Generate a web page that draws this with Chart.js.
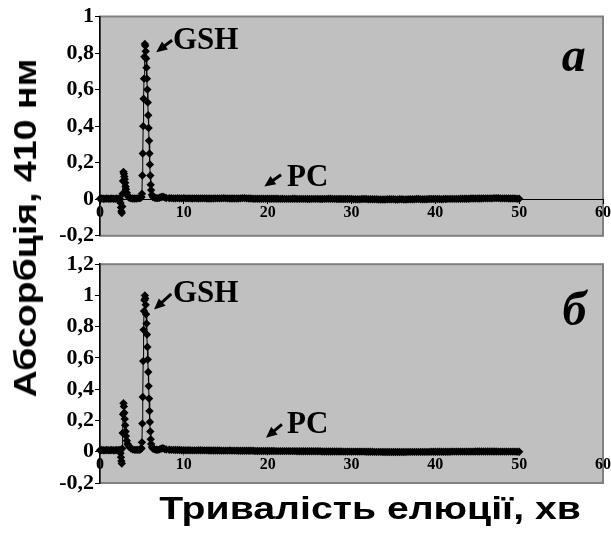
<!DOCTYPE html>
<html>
<head>
<meta charset="utf-8">
<script src="https://cdn.jsdelivr.net/npm/chart.js@4.4.1/dist/chart.umd.min.js"></script>
<style>
  body { margin: 0; background: #fff; }
  #wrap { position: relative; width: 611px; height: 536px; overflow: hidden; }
  #wrap canvas { position: absolute; left: 0; }
  #ytitle {
    position: absolute; left: 26px; top: 228px;
    transform: translate(-50%, -50%) rotate(-90deg) scaleX(1.21);
    font: bold 31px "Liberation Sans", Arial, sans-serif; white-space: nowrap;
  }
  #xtitle {
    position: absolute; left: 370px; top: 509px;
    transform: translate(-50%, -50%) scaleX(1.265);
    font: bold 31px "Liberation Sans", Arial, sans-serif; white-space: nowrap;
  }
</style>
</head>
<body>
<div id="wrap">
  <canvas id="chartA" width="611" height="250" style="top:0"></canvas>
  <canvas id="chartB" width="611" height="250" style="top:250px"></canvas>
  <div id="ytitle">Абсорбція, 410 нм</div>
  <div id="xtitle">Тривалість елюції, хв</div>
</div>
<script>
// час елюції, хв (спільна сітка для обох хроматограм)
const elutionTime = [
  0, 0.2, 0.4, 0.6, 0.8, 1.0, 1.2, 1.4, 1.6, 1.8, 2.0, 2.2, 2.3,
  2.4, 2.45, 2.5, 2.55, 2.6, 2.65, 2.7, 2.75, 2.8, 2.85, 2.9, 2.95, 3.0, 3.05, 3.1, 3.2, 3.3, 3.4, 3.5,
  3.7, 3.9, 4.1, 4.3, 4.5, 4.7, 4.85, 4.95,
  5.0, 5.05, 5.1, 5.15, 5.2, 5.25, 5.3, 5.35, 5.4, 5.45, 5.5, 5.55, 5.6, 5.65, 5.7, 5.75, 5.8, 5.85, 5.9, 5.95, 6.0, 6.05, 6.1, 6.2, 6.3,
  6.5, 6.7, 6.9, 7.1, 7.3, 7.5, 7.7, 7.9,
  8.25, 8.5, 8.75, 9, 9.25, 9.5, 9.75, 10,
  10.25, 10.5, 10.75, 11, 11.25, 11.5, 11.75, 12,
  12.25, 12.5, 12.75, 13, 13.25, 13.5, 13.75, 14,
  14.25, 14.5, 14.75, 15, 15.25, 15.5, 15.75, 16,
  16.25, 16.5, 16.75, 17, 17.25, 17.5, 17.75, 18,
  18.25, 18.5, 18.75, 19, 19.25, 19.5, 19.75, 20,
  20.25, 20.5, 20.75, 21, 21.25, 21.5, 21.75, 22,
  22.25, 22.5, 22.75, 23, 23.25, 23.5, 23.75, 24,
  24.25, 24.5, 24.75, 25, 25.25, 25.5, 25.75, 26,
  26.25, 26.5, 26.75, 27, 27.25, 27.5, 27.75, 28,
  28.25, 28.5, 28.75, 29, 29.25, 29.5, 29.75, 30,
  30.25, 30.5, 30.75, 31, 31.25, 31.5, 31.75, 32,
  32.25, 32.5, 32.75, 33, 33.25, 33.5, 33.75, 34,
  34.25, 34.5, 34.75, 35, 35.25, 35.5, 35.75, 36,
  36.25, 36.5, 36.75, 37, 37.25, 37.5, 37.75, 38,
  38.25, 38.5, 38.75, 39, 39.25, 39.5, 39.75, 40,
  40.25, 40.5, 40.75, 41, 41.25, 41.5, 41.75, 42,
  42.25, 42.5, 42.75, 43, 43.25, 43.5, 43.75, 44,
  44.25, 44.5, 44.75, 45, 45.25, 45.5, 45.75, 46,
  46.25, 46.5, 46.75, 47, 47.25, 47.5, 47.75, 48,
  48.25, 48.5, 48.75, 49, 49.25, 49.5, 49.75, 50
];

// панель а
const absorbanceA = [
  0.003, 0.004, 0.003, 0.003, 0.004, 0.003, 0.003, 0.004, 0.003, 0.003, 0.004, 0.003, 0.002,
  0, -0.02, -0.045, -0.065, -0.075, -0.04, 0.03, 0.1, 0.15, 0.14, 0.125, 0.11, 0.09, 0.07, 0.055, 0.035, 0.02, 0.012, 0.008,
  0.005, 0.004, 0.004, 0.004, 0.005, 0.006, 0.008, 0.012,
  0.03, 0.13, 0.25, 0.4, 0.55, 0.66, 0.78, 0.85, 0.84, 0.81, 0.77, 0.72, 0.66, 0.6, 0.53, 0.46, 0.39, 0.32, 0.25, 0.19, 0.13, 0.08, 0.05, 0.025, 0.012,
  0.008, 0.006, 0.006, 0.008, 0.012, 0.014, 0.01, 0.007,
  0.006, 0.006, 0.005, 0.005, 0.006, 0.005, 0.005, 0.006,
  0.005, 0.005, 0.005, 0.004, 0.005, 0.005, 0.004, 0.005,
  0.005, 0.005, 0.004, 0.004, 0.004, 0.004, 0.005, 0.005,
  0.005, 0.005, 0.006, 0.005, 0.005, 0.004, 0.004, 0.004,
  0.004, 0.004, 0.005, 0.006, 0.006, 0.005, 0.004, 0.004,
  0.003, 0.003, 0.003, 0.003, 0.003, 0.003, 0.003, 0.003,
  0.003, 0.003, 0.003, 0.003, 0.003, 0.002, 0.003, 0.002,
  0.002, 0.002, 0.002, 0.003, 0.003, 0.002, 0.002, 0.002,
  0.002, 0.002, 0.001, 0.001, 0.002, 0.002, 0.002, 0.002,
  0.001, 0.001, 0.002, 0.002, 0.003, 0.003, 0.002, 0.002,
  0.001, 0.001, 0.001, 0.001, 0.001, 0.001, 0.001, 0.001,
  0, 0, 0, 0, 0.001, 0.001, 0.001, 0,
  0, 0, 0, 0, -0.001, -0.001, -0.001, -0.001,
  0, 0, 0, 0, -0.001, -0.001, 0, 0,
  -0.001, -0.001, 0, 0, 0, 0, 0.001, 0.001,
  0, 0, 0, 0, 0.001, 0.001, 0.001, 0.001,
  0.001, 0.001, 0, 0.001, 0.001, 0.002, 0.002, 0.002,
  0.002, 0.002, 0.002, 0.003, 0.003, 0.003, 0.003, 0.003,
  0.004, 0.004, 0.004, 0.004, 0.004, 0.004, 0.005, 0.005,
  0.005, 0.005, 0.005, 0.006, 0.006, 0.006, 0.005, 0.005,
  0.005, 0.005, 0.004, 0.004, 0.004, 0.004, 0.003, 0.003
];

// панель б
const absorbanceB = [
  0.01, 0.011, 0.01, 0.01, 0.011, 0.01, 0.01, 0.011, 0.01, 0.01, 0.011, 0.01, 0.01,
  0.008, -0.01, -0.035, -0.06, -0.075, 0.02, 0.12, 0.24, 0.31, 0.29, 0.25, 0.21, 0.17, 0.13, 0.1, 0.07, 0.05, 0.04, 0.03,
  0.02, 0.015, 0.012, 0.012, 0.012, 0.013, 0.016, 0.022,
  0.06, 0.18, 0.35, 0.58, 0.78, 0.9, 0.97, 1.0, 0.98, 0.94, 0.88, 0.82, 0.75, 0.67, 0.59, 0.51, 0.42, 0.34, 0.26, 0.19, 0.13, 0.08, 0.05, 0.03, 0.02,
  0.015, 0.013, 0.012, 0.015, 0.02, 0.022, 0.018, 0.014,
  0.013, 0.012, 0.012, 0.011, 0.011, 0.011, 0.01, 0.01,
  0.01, 0.01, 0.01, 0.009, 0.009, 0.009, 0.01, 0.01,
  0.009, 0.009, 0.009, 0.008, 0.008, 0.008, 0.008, 0.008,
  0.008, 0.007, 0.007, 0.007, 0.007, 0.008, 0.007, 0.007,
  0.007, 0.006, 0.006, 0.006, 0.006, 0.006, 0.006, 0.006,
  0.006, 0.005, 0.005, 0.005, 0.005, 0.005, 0.005, 0.005,
  0.005, 0.005, 0.005, 0.004, 0.004, 0.004, 0.004, 0.004,
  0.004, 0.004, 0.004, 0.004, 0.004, 0.003, 0.003, 0.003,
  0.003, 0.003, 0.003, 0.003, 0.003, 0.003, 0.003, 0.003,
  0.003, 0.002, 0.002, 0.002, 0.002, 0.002, 0.002, 0.002,
  0.002, 0.002, 0.002, 0.001, 0.001, 0.001, 0.001, 0.001,
  0.001, 0.001, 0.001, 0.001, 0.001, 0.001, 0, 0,
  0, 0, -0.001, -0.001, -0.001, -0.001, -0.002, -0.002,
  -0.002, -0.002, -0.002, -0.002, -0.002, -0.002, -0.002, -0.002,
  -0.002, -0.002, -0.001, -0.001, -0.001, -0.001, -0.001, -0.001,
  -0.001, -0.001, -0.001, -0.001, -0.001, 0, 0, 0,
  0, 0, 0, 0, 0, 0, 0, 0.001,
  0.001, 0.001, 0.001, 0.001, 0.001, 0.001, 0.001, 0.001,
  0.001, 0.001, 0.002, 0.002, 0.002, 0.002, 0.002, 0.002,
  0.002, 0.002, 0.002, 0.002, 0.002, 0.001, 0.001, 0.001,
  0.001, 0.001, 0.001, 0.001, 0.001, 0.001, 0, 0
];

// підписи піків: [текст, x тексту, y тексту, хвіст стрілки x,y, вістря x,y]
const peakLabelsA = [
  ['GSH', 8.7, 0.82, 8.6, 0.87, 6.7, 0.805],
  ['PC', 22.3, 0.07, 21.6, 0.134, 19.6, 0.07]
];
const peakLabelsB = [
  ['GSH', 8.7, 0.96, 8.5, 1.01, 6.45, 0.91],
  ['PC', 22.3, 0.12, 21.7, 0.175, 19.8, 0.09]
];

const serif = 'Liberation Serif, Times New Roman, serif';

function fmtTick(v) {
  const r = Math.round(v * 10) / 10;
  return String(r === 0 ? 0 : r).replace('.', ',');
}

// сірий фон області побудови, як у Excel
const plotBg = {
  id: 'plotBg',
  beforeDraw(chart) {
    const { ctx, chartArea: a } = chart;
    ctx.save();
    ctx.fillStyle = '#c0c0c0';
    ctx.fillRect(a.left, a.top, a.width, a.height);
    ctx.strokeStyle = '#808080';
    ctx.lineWidth = 2;
    ctx.strokeRect(a.left, a.top, a.width, a.height);
    ctx.restore();
  }
};

// текстові позначки піків і літера панелі
const peakNotes = {
  id: 'peakNotes',
  afterDraw(chart, args, opts) {
    const { ctx, scales: { x, y } } = chart;
    ctx.save();
    ctx.fillStyle = '#000';
    ctx.strokeStyle = '#000';
    opts.labels.forEach(([txt, tx, ty, ax, ay, bx, by]) => {
      ctx.font = 'bold 31px ' + serif;
      ctx.textAlign = 'left';
      ctx.textBaseline = 'alphabetic';
      ctx.fillText(txt, x.getPixelForValue(tx), y.getPixelForValue(ty));
      const x1 = x.getPixelForValue(ax), y1 = y.getPixelForValue(ay);
      const x2 = x.getPixelForValue(bx), y2 = y.getPixelForValue(by);
      const ang = Math.atan2(y2 - y1, x2 - x1);
      ctx.lineWidth = 3;
      ctx.beginPath();
      ctx.moveTo(x1, y1);
      ctx.lineTo(x2 - 6 * Math.cos(ang), y2 - 6 * Math.sin(ang));
      ctx.stroke();
      ctx.beginPath();
      ctx.moveTo(x2, y2);
      ctx.lineTo(x2 - 11 * Math.cos(ang) + 5 * Math.sin(ang), y2 - 11 * Math.sin(ang) - 5 * Math.cos(ang));
      ctx.lineTo(x2 - 11 * Math.cos(ang) - 5 * Math.sin(ang), y2 - 11 * Math.sin(ang) + 5 * Math.cos(ang));
      ctx.closePath();
      ctx.fill();
    });
    ctx.font = 'italic bold 48px ' + serif;
    ctx.textAlign = 'center';
    ctx.fillText(opts.letter[0], x.getPixelForValue(opts.letter[1]), y.getPixelForValue(opts.letter[2]));
    ctx.restore();
  }
};

function makePanel(canvasId, values, yMax, pad, labels, letter, axisColor, tickColor) {
  const points = elutionTime.map((t, i) => ({ x: t, y: values[i] }));
  return new Chart(document.getElementById(canvasId), {
    type: 'line',
    data: {
      datasets: [{
        data: points,
        borderColor: '#000',
        backgroundColor: '#000',
        borderWidth: 1,
        pointStyle: 'rectRot',
        pointRadius: 4.2,
        pointBorderWidth: 0,
        tension: 0,
        clip: false
      }]
    },
    options: {
      responsive: false,
      animation: false,
      events: [],
      layout: { padding: pad },
      plugins: {
        legend: { display: false },
        tooltip: { enabled: false },
        peakNotes: { labels: labels, letter: letter }
      },
      scales: {
        x: {
          type: 'linear',
          position: { y: 0 },
          min: 0, max: 60,
          grid: { drawOnChartArea: false, tickLength: 4, color: tickColor },
          border: { color: axisColor, width: 1 },
          ticks: {
            stepSize: 10, padding: 0, color: '#000',
            maxRotation: 0, autoSkip: false,
            font: { family: serif, size: 16, weight: 'bold' }
          }
        },
        y: {
          min: -0.2, max: yMax,
          afterFit(s) { s.width = 100; },
          grid: { drawOnChartArea: false, tickLength: 5, color: '#000' },
          border: { color: '#000', width: 1.5 },
          ticks: {
            stepSize: 0.2, padding: 1, color: '#000',
            callback: fmtTick,
            font: { family: serif, size: 22, weight: 'bold' }
          }
        }
      }
    },
    plugins: [plotBg, peakNotes]
  });
}

makePanel('chartA', absorbanceA, 1.0,
  { left: 0, top: 16.5, right: 7, bottom: 9.5 },
  peakLabelsA, ['а', 56.5, 0.70], '#000', '#000');
makePanel('chartB', absorbanceB, 1.2,
  { left: 0, top: 10, right: 7, bottom: 17 },
  peakLabelsB, ['б', 56.6, 0.81], 'rgba(0,0,0,0)', '#808080');
</script>
</body>
</html>
